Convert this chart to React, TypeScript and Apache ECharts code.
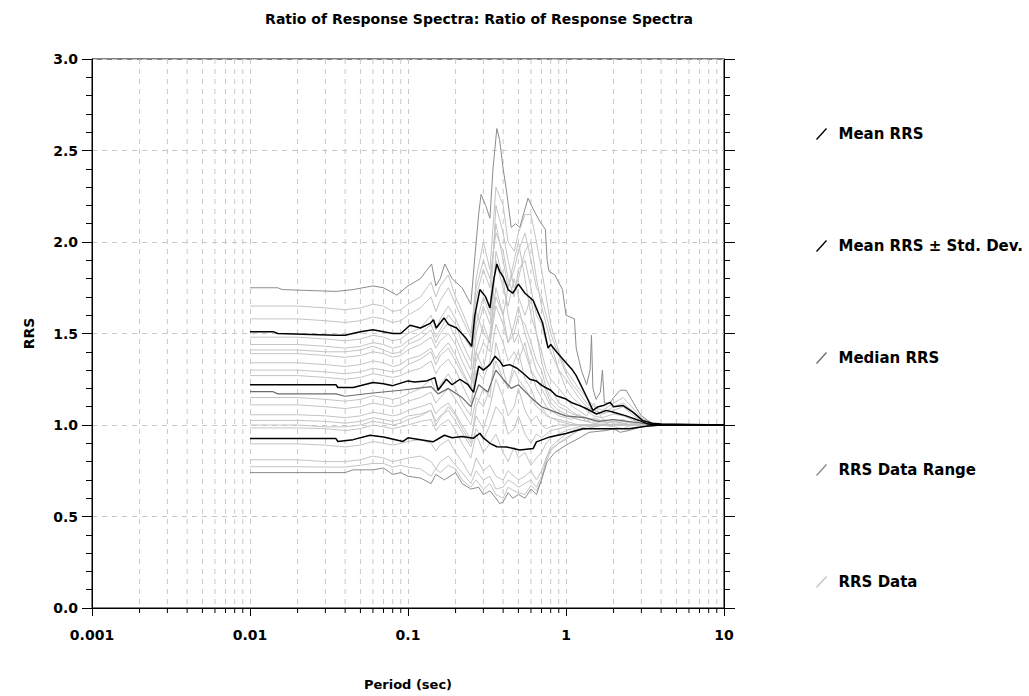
import React, { useEffect, useRef } from "react";
import * as echarts from "echarts";

// ---------- data ----------
const periods = [
  0.01, 0.02, 0.03, 0.04, 0.05, 0.06, 0.07, 0.08, 0.09, 0.1,
  0.12, 0.14, 0.15, 0.16, 0.18, 0.2, 0.22, 0.25, 0.27, 0.3,
  0.33, 0.36, 0.4, 0.43, 0.47, 0.5, 0.55, 0.6, 0.65, 0.7,
  0.75, 0.8, 0.9, 1.0, 1.1, 1.2, 1.35, 1.5, 1.7, 2.0,
  2.3, 2.6, 3.0, 3.5, 4.0, 5.0, 7.0, 10.0,
];

const rrs01 = [1.65,1.65,1.64,1.63,1.64,1.66,1.65,1.62,1.63,1.66,1.7,1.78,1.7,1.76,1.82,1.7,1.62,1.5,1.75,1.9,1.8,2.05,1.95,1.8,1.7,1.85,1.9,1.75,1.6,1.55,1.45,1.4,1.3,1.25,1.2,1.15,1.1,1.08,1.06,1.1,1.12,1.08,1.03,1.01,1.0,1.0,1.0,1.0];
const rrs02 = [1.44,1.44,1.43,1.42,1.43,1.45,1.44,1.42,1.43,1.46,1.5,1.55,1.48,1.52,1.6,1.55,1.45,1.35,1.55,1.7,1.6,2.2,2.05,1.9,1.75,1.8,1.95,2.0,1.8,1.65,1.55,1.45,1.3,1.2,1.15,1.12,1.08,1.05,1.04,1.06,1.05,1.03,1.01,1.0,1.0,1.0,1.0,1.0];
const rrs03 = [1.41,1.41,1.4,1.4,1.41,1.43,1.41,1.39,1.4,1.44,1.47,1.52,1.45,1.5,1.56,1.48,1.4,1.3,1.62,1.5,1.45,1.7,1.6,1.75,1.9,2.0,1.8,1.6,1.5,1.4,1.3,1.25,1.2,1.15,1.1,1.08,1.05,1.12,1.03,1.02,1.02,1.01,1.0,1.0,1.0,1.0,1.0,1.0];
const rrs04 = [1.39,1.39,1.38,1.37,1.38,1.4,1.39,1.37,1.38,1.41,1.44,1.48,1.42,1.46,1.5,1.44,1.35,1.25,1.4,1.55,1.45,1.65,1.55,1.45,1.5,1.6,1.55,1.45,1.35,1.3,1.2,1.15,1.1,1.08,1.06,1.05,1.04,1.02,1.01,1.02,1.03,1.01,1.0,1.0,1.0,1.0,1.0,1.0];
const rrs05 = [1.34,1.34,1.33,1.32,1.33,1.35,1.34,1.32,1.33,1.36,1.38,1.42,1.36,1.4,1.45,1.38,1.3,1.2,1.35,1.45,1.4,1.95,1.8,1.6,1.45,1.5,1.4,1.3,1.25,1.2,1.15,1.1,1.06,1.05,1.04,1.03,1.02,1.01,1.0,1.0,1.0,1.0,1.0,1.0,1.0,1.0,1.0,1.0];
const rrs06 = [1.27,1.27,1.26,1.25,1.26,1.28,1.27,1.26,1.27,1.29,1.31,1.35,1.28,1.32,1.36,1.3,1.22,1.12,1.3,1.25,1.35,1.55,1.45,1.35,1.4,1.35,1.45,1.3,1.2,1.15,1.1,1.08,1.05,1.04,1.03,1.06,1.02,1.01,1.0,1.02,1.01,1.0,1.0,1.0,1.0,1.0,1.0,1.0];
const rrs07 = [1.11,1.11,1.1,1.09,1.1,1.12,1.11,1.1,1.11,1.13,1.15,1.18,1.12,1.15,1.2,1.14,1.08,1.0,1.15,1.1,1.2,1.35,1.25,1.2,1.3,1.25,1.2,1.15,1.1,1.08,1.05,1.04,1.03,1.02,1.01,1.0,1.0,0.99,1.0,1.0,1.0,1.0,1.0,1.0,1.0,1.0,1.0,1.0];
const rrs08 = [1.056,1.056,1.05,1.04,1.05,1.07,1.06,1.05,1.06,1.08,1.1,1.12,1.06,1.09,1.12,1.06,1.0,0.92,1.05,0.98,1.1,1.25,1.15,1.05,1.1,1.2,1.08,1.02,1.05,1.0,0.98,0.99,1.0,1.0,1.0,1.0,1.0,1.0,1.0,1.0,1.0,1.0,1.0,1.0,1.0,1.0,1.0,1.0];
const rrs09 = [1.025,1.025,1.02,1.01,1.02,1.04,1.03,1.02,1.03,1.05,1.06,1.08,1.02,1.05,1.08,1.02,0.96,0.88,0.98,0.92,1.0,1.1,1.05,0.95,0.98,1.05,0.95,0.9,0.95,0.93,0.95,0.97,0.98,0.99,1.0,1.0,1.0,1.0,1.0,1.0,1.0,1.0,1.0,1.0,1.0,1.0,1.0,1.0];
const rrs10 = [0.984,0.984,0.98,0.97,0.98,1.0,0.99,0.98,0.99,1.0,1.02,1.03,0.97,1.0,1.03,0.97,0.9,0.82,0.95,0.85,0.9,0.95,0.85,0.8,0.88,0.82,0.85,0.78,0.82,0.85,0.9,0.93,0.95,0.97,0.98,0.99,1.0,1.0,1.0,1.0,1.0,1.0,1.0,1.0,1.0,1.0,1.0,1.0];
const rrs11 = [0.897,0.897,0.89,0.88,0.89,0.91,0.9,0.89,0.9,0.91,0.92,0.9,0.86,0.89,0.92,0.85,0.8,0.72,0.82,0.75,0.78,0.72,0.7,0.75,0.72,0.7,0.72,0.75,0.7,0.75,0.82,0.88,0.92,0.95,0.97,0.98,0.99,1.0,1.0,1.0,1.0,1.0,1.0,1.0,1.0,1.0,1.0,1.0];
const rrs12 = [0.81,0.81,0.8,0.8,0.81,0.83,0.82,0.8,0.81,0.82,0.83,0.8,0.76,0.8,0.83,0.78,0.74,0.68,0.75,0.7,0.72,0.65,0.66,0.7,0.68,0.66,0.68,0.7,0.66,0.72,0.8,0.86,0.9,0.93,0.95,0.97,0.98,0.99,1.0,1.0,1.0,1.0,1.0,1.0,1.0,1.0,1.0,1.0];
const rrs13 = [0.772,0.772,0.77,0.77,0.78,0.79,0.79,0.77,0.78,0.77,0.76,0.72,0.76,0.74,0.78,0.76,0.7,0.66,0.7,0.65,0.68,0.62,0.6,0.66,0.64,0.63,0.62,0.67,0.64,0.7,0.82,0.87,0.9,0.92,0.95,0.97,0.98,0.99,1.0,0.99,0.98,1.0,1.0,1.0,1.0,1.0,1.0,1.0];
const rrs14 = [1.48,1.48,1.47,1.46,1.47,1.49,1.48,1.46,1.47,1.5,1.53,1.6,1.52,1.58,1.65,1.58,1.5,1.42,1.8,2.0,1.85,2.3,2.2,2.0,1.95,2.05,2.15,2.15,2.0,1.85,1.7,1.55,1.4,1.3,1.25,1.2,1.15,1.1,1.08,1.12,1.15,1.1,1.04,1.01,1.0,1.0,1.0,1.0];
const rrs15 = [1.15,1.15,1.14,1.13,1.14,1.16,1.15,1.14,1.15,1.17,1.2,1.25,1.18,1.22,1.28,1.2,1.12,1.05,1.4,1.3,1.5,1.75,1.6,1.45,1.55,1.65,1.5,1.4,1.3,1.25,1.18,1.12,1.08,1.06,1.04,1.03,1.02,1.04,1.02,1.01,1.01,1.0,1.0,1.0,1.0,1.0,1.0,1.0];
const rrs16 = [1.3,1.3,1.29,1.28,1.29,1.31,1.3,1.29,1.3,1.33,1.36,1.4,1.33,1.38,1.42,1.35,1.28,1.2,1.5,1.65,1.55,1.9,1.75,1.65,1.8,1.7,1.6,1.7,1.5,1.35,1.25,1.2,1.12,1.1,1.07,1.05,1.04,1.03,1.02,1.03,1.02,1.01,1.0,1.0,1.0,1.0,1.0,1.0];
const rrs17 = [1.0,1.0,0.99,0.99,1.0,1.02,1.01,1.0,1.01,1.03,1.05,1.08,1.0,1.04,1.1,1.05,0.98,0.9,1.1,1.2,1.15,1.45,1.3,1.2,1.35,1.4,1.25,1.2,1.12,1.1,1.06,1.04,1.02,1.01,1.0,1.0,1.0,1.0,1.0,1.0,1.0,1.0,1.0,1.0,1.0,1.0,1.0,1.0];
const rrs18 = [1.58,1.58,1.57,1.56,1.57,1.59,1.58,1.56,1.57,1.6,1.64,1.7,1.62,1.68,1.75,1.66,1.58,1.48,1.7,1.85,1.75,2.1,1.9,1.75,1.85,1.95,2.05,1.9,1.75,1.7,1.6,1.5,1.38,1.28,1.22,1.18,1.12,1.08,1.06,1.08,1.1,1.06,1.02,1.0,1.0,1.0,1.0,1.0];
const rrsDataSets = [rrs01, rrs02, rrs03, rrs04, rrs05, rrs06, rrs07, rrs08, rrs09, rrs10, rrs11, rrs12, rrs13, rrs14, rrs15, rrs16, rrs17, rrs18];

// [period, RRS]
const rangeMax = [[0.01,1.75],[0.015,1.75],[0.016,1.74],[0.035,1.73],[0.045,1.74],[0.06,1.76],[0.07,1.75],[0.085,1.71],[0.1,1.76],[0.12,1.8],[0.13,1.84],[0.141,1.88],[0.15,1.76],[0.16,1.8],[0.171,1.88],[0.19,1.8],[0.22,1.75],[0.25,1.66],[0.265,1.92],[0.28,2.15],[0.29,2.26],[0.31,2.2],[0.33,2.13],[0.345,2.4],[0.365,2.62],[0.38,2.56],[0.4,2.4],[0.42,2.28],[0.45,2.08],[0.48,2.1],[0.51,2.08],[0.55,2.18],[0.575,2.24],[0.62,2.18],[0.685,2.11],[0.74,2.07],[0.76,1.9],[0.78,1.84],[0.85,1.82],[0.95,1.74],[1.0,1.6],[1.13,1.58],[1.16,1.42],[1.25,1.3],[1.35,1.22],[1.42,1.3],[1.45,1.49],[1.48,1.2],[1.55,1.14],[1.65,1.18],[1.7,1.3],[1.75,1.12],[1.9,1.12],[2.0,1.15],[2.2,1.19],[2.4,1.19],[2.6,1.14],[2.8,1.09],[3.0,1.05],[3.5,1.01],[4.0,1.005],[10,1.0]];
const rangeMin = [[0.01,0.74],[0.04,0.74],[0.045,0.755],[0.06,0.755],[0.07,0.765],[0.08,0.73],[0.09,0.74],[0.1,0.72],[0.12,0.71],[0.14,0.68],[0.15,0.73],[0.17,0.7],[0.2,0.74],[0.22,0.68],[0.25,0.65],[0.28,0.66],[0.3,0.62],[0.33,0.64],[0.36,0.6],[0.38,0.57],[0.4,0.58],[0.43,0.63],[0.46,0.6],[0.5,0.62],[0.55,0.6],[0.6,0.65],[0.65,0.62],[0.7,0.7],[0.76,0.8],[0.85,0.85],[1.0,0.89],[1.22,0.93],[1.4,0.96],[1.8,0.97],[2.0,0.98],[2.2,0.96],[2.5,0.97],[3.0,0.99],[4.0,1.0],[10,1.0]];
const meanPlusStd = [[0.01,1.51],[0.014,1.51],[0.015,1.5],[0.035,1.49],[0.04,1.49],[0.05,1.51],[0.06,1.52],[0.08,1.5],[0.09,1.5],[0.103,1.545],[0.12,1.53],[0.138,1.555],[0.145,1.575],[0.151,1.53],[0.169,1.585],[0.18,1.55],[0.203,1.53],[0.23,1.48],[0.253,1.43],[0.265,1.6],[0.285,1.74],[0.31,1.7],[0.33,1.64],[0.35,1.8],[0.365,1.88],[0.38,1.84],[0.4,1.81],[0.43,1.74],[0.46,1.72],[0.5,1.77],[0.55,1.72],[0.62,1.68],[0.685,1.59],[0.71,1.56],[0.77,1.42],[0.8,1.44],[0.87,1.4],[1.0,1.34],[1.1,1.3],[1.16,1.27],[1.34,1.16],[1.48,1.08],[1.6,1.1],[1.72,1.106],[1.9,1.124],[2.0,1.1],[2.3,1.106],[2.65,1.07],[3.05,1.025],[3.5,1.01],[4,1.005],[10,1.0]];
const meanRRS = [[0.01,1.22],[0.035,1.22],[0.036,1.205],[0.045,1.205],[0.06,1.232],[0.07,1.225],[0.08,1.215],[0.1,1.241],[0.11,1.235],[0.13,1.24],[0.148,1.259],[0.155,1.19],[0.175,1.25],[0.19,1.22],[0.213,1.25],[0.24,1.22],[0.26,1.178],[0.28,1.322],[0.3,1.3],[0.33,1.33],[0.356,1.376],[0.38,1.35],[0.4,1.322],[0.44,1.33],[0.49,1.31],[0.54,1.28],[0.59,1.25],[0.65,1.24],[0.71,1.214],[0.8,1.19],[0.87,1.16],[1.0,1.142],[1.1,1.12],[1.22,1.106],[1.34,1.09],[1.56,1.06],[1.8,1.08],[2.0,1.07],[2.4,1.05],[2.9,1.025],[3.3,1.005],[4,1.0],[10,1.0]];
const meanMinusStd = [[0.01,0.926],[0.035,0.926],[0.036,0.91],[0.045,0.92],[0.0575,0.944],[0.07,0.935],[0.093,0.91],[0.1,0.93],[0.12,0.92],[0.144,0.908],[0.17,0.944],[0.19,0.93],[0.22,0.937],[0.26,0.928],[0.285,0.955],[0.3,0.93],[0.33,0.9],[0.365,0.881],[0.42,0.88],[0.51,0.863],[0.62,0.872],[0.65,0.908],[0.79,0.935],[1.0,0.954],[1.28,0.98],[2.0,0.98],[2.5,0.98],[3.3,0.995],[4,1.0],[10,1.0]];
const medianRRS = [[0.01,1.182],[0.014,1.182],[0.015,1.17],[0.035,1.17],[0.04,1.157],[0.06,1.175],[0.09,1.19],[0.14,1.21],[0.155,1.17],[0.18,1.2],[0.22,1.15],[0.25,1.1],[0.28,1.22],[0.32,1.18],[0.36,1.3],[0.4,1.25],[0.45,1.2],[0.5,1.22],[0.6,1.15],[0.7,1.1],[0.8,1.08],[1.0,1.05],[1.3,1.04],[1.6,1.02],[2.0,1.03],[3.0,1.01],[4,1.0],[10,1.0]];

const minorPeriods = [
  0.002, 0.003, 0.004, 0.005, 0.006, 0.007, 0.008, 0.009,
  0.02, 0.03, 0.04, 0.05, 0.06, 0.07, 0.08, 0.09,
  0.2, 0.3, 0.4, 0.5, 0.6, 0.7, 0.8, 0.9,
  2, 3, 4, 5, 6, 7, 8, 9,
];

const legendNames = ["Mean RRS", "Mean RRS \u00b1 Std. Dev.", "Median RRS", "RRS Data Range", "RRS Data"];

const FONT = "'DejaVu Sans', Verdana, sans-serif";
const GRID_COLOR = "#c8c8c8";
const DATA_COLOR = "#c4c4c4";
const RANGE_COLOR = "#8c8c8c";
const MEDIAN_COLOR = "#6c6c6c";
const BLACK = "#000000";
const Y_MIN = 0;
const Y_MAX = 3;

function lineSeries(name: string, data: number[][], color: string, width: number, z: number) {
  return {
    name,
    type: "line",
    data,
    symbol: "none",
    showSymbol: false,
    silent: true,
    z,
    lineStyle: { color, width },
    itemStyle: { color },
    emphasis: { disabled: true },
  };
}

export default function App() {
  const ref = useRef<HTMLDivElement>(null);
  useEffect(() => {
    const chart = echarts.init(ref.current!, null, { renderer: "svg" });
    const series: any[] = [];
    series.push({
      type: "custom",
      silent: true,
      clip: false,
      z: 1,
      data: minorPeriods.map((p) => [p, 0]),
      renderItem: (_params: any, api: any) => {
        const p = api.value(0);
        const top = api.coord([p, Y_MAX]);
        const bot = api.coord([p, Y_MIN]);
        return {
          type: "group",
          children: [
            { type: "line", shape: { x1: top[0], y1: top[1], x2: bot[0], y2: bot[1] }, style: { stroke: GRID_COLOR, lineWidth: 1, lineDash: [5, 5] } },
            { type: "line", shape: { x1: bot[0], y1: bot[1], x2: bot[0], y2: bot[1] + 5 }, style: { stroke: BLACK, lineWidth: 1 } },
          ],
        };
      },
    });
    rrsDataSets.forEach((arr) => {
      series.push(lineSeries("RRS Data", periods.map((p, i) => [p, arr[i]]), DATA_COLOR, 1, 2));
    });
    series.push(lineSeries("RRS Data Range", rangeMax, RANGE_COLOR, 1, 3));
    series.push(lineSeries("RRS Data Range", rangeMin, RANGE_COLOR, 1, 3));
    series.push(lineSeries("Median RRS", medianRRS, MEDIAN_COLOR, 1.2, 4));
    series.push(lineSeries("Mean RRS \u00b1 Std. Dev.", meanPlusStd, BLACK, 1.5, 5));
    series.push(lineSeries("Mean RRS \u00b1 Std. Dev.", meanMinusStd, BLACK, 1.5, 5));
    series.push(lineSeries("Mean RRS", meanRRS, BLACK, 1.5, 6));

    const option: any = {
      animation: false,
      backgroundColor: "#ffffff",
      textStyle: { fontFamily: FONT },
      title: {
        text: "Ratio of Response Spectra: Ratio of Response Spectra",
        left: 474,
        textAlign: "center",
        top: 7,
        textStyle: { fontFamily: FONT, fontWeight: "bold", fontSize: 14, color: BLACK },
      },
      legend: {
        data: legendNames,
        orient: "vertical",
        left: 811,
        top: 121,
        itemGap: 96,
        itemWidth: 12,
        itemHeight: 12,
        icon: "path://M0,11 L10,0 L11,1 L1,12 Z",
        selectedMode: false,
        textStyle: { fontFamily: FONT, fontWeight: "bold", fontSize: 15, color: BLACK, padding: [0, 0, 0, 6], lineHeight: 16 },
      },
      grid: { left: 92, top: 59, right: 305, bottom: 81, show: true, borderColor: BLACK, borderWidth: 1, backgroundColor: "transparent" },
      xAxis: {
        type: "log",
        logBase: 10,
        min: 0.001,
        max: 10,
        name: "Period (sec)",
        nameLocation: "middle",
        nameGap: 70,
        nameTextStyle: { fontFamily: FONT, fontWeight: "bold", fontSize: 13, color: BLACK },
        axisLine: { show: true, onZero: false, lineStyle: { color: BLACK, width: 1 } },
        axisTick: { show: true, inside: false, length: 8, lineStyle: { color: BLACK } },
        axisLabel: {
          margin: 20,
          fontFamily: FONT,
          fontWeight: "bold",
          fontSize: 14,
          color: BLACK,
          formatter: (v: number) => String(Number(v.toPrecision(3))),
        },
        splitLine: { show: true, lineStyle: { color: GRID_COLOR, type: [5, 5], width: 1 } },
      },
      yAxis: [
        {
          type: "value",
          min: Y_MIN,
          max: Y_MAX,
          interval: 0.5,
          name: "RRS",
          nameLocation: "middle",
          nameRotate: 90,
          nameGap: 56,
          nameTextStyle: { fontFamily: FONT, fontWeight: "bold", fontSize: 14, color: BLACK },
          axisLine: { show: true, onZero: false, lineStyle: { color: BLACK, width: 1 } },
          axisTick: { show: true, inside: false, length: 10, lineStyle: { color: BLACK } },
          minorTick: { show: true, splitNumber: 5, length: 6, lineStyle: { color: BLACK } },
          axisLabel: {
            margin: 14,
            fontFamily: FONT,
            fontWeight: "bold",
            fontSize: 14,
            color: BLACK,
            formatter: (v: number) => v.toFixed(1),
          },
          splitLine: { show: true, lineStyle: { color: GRID_COLOR, type: [5, 5], width: 1 } },
        },
        {
          type: "value",
          position: "right",
          min: Y_MIN,
          max: Y_MAX,
          interval: 0.5,
          axisLine: { show: true, onZero: false, lineStyle: { color: BLACK, width: 1 } },
          axisTick: { show: true, inside: false, length: 11, lineStyle: { color: BLACK } },
          minorTick: { show: true, splitNumber: 5, length: 6, lineStyle: { color: BLACK } },
          axisLabel: { show: false },
          splitLine: { show: false },
        },
      ],
      series,
    };
    chart.setOption(option);
    return () => chart.dispose();
  }, []);
  return (
    <div
      ref={ref}
      style={{ position: "fixed", left: 0, top: 0, width: 1029, height: 696, background: "#ffffff" }}
    />
  );
}
